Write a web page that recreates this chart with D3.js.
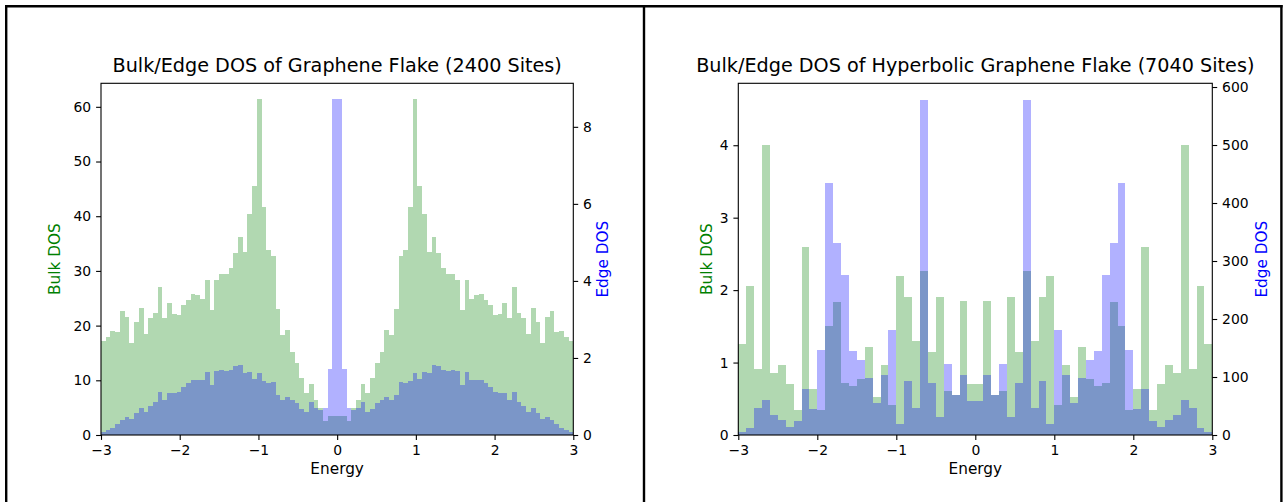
<!DOCTYPE html>
<html>
<head>
<meta charset="utf-8">
<script src="https://cdn.jsdelivr.net/npm/d3@7"></script>
<style>
    body { margin: 0; background: #fff; }
    svg text { font-family: "DejaVu Sans", sans-serif; }
</style>
</head>
<body>
<div id="chart"></div>
<script>
// histogram bins span this energy range, bins are equal width
var energyRange = [-3, 3];
var energyTicks = [-3, -2, -1, 0, 1, 2, 3];

// graphene flake, 100 bins
var flakeBulk = [
    17.1, 18.0, 19.0, 18.8, 22.6, 21.6, 16.8, 20.6, 23.3, 18.5,
    21.4, 22.3, 27.0, 21.3, 24.1, 22.1, 21.9, 23.8, 24.7, 25.8,
    25.6, 24.8, 28.4, 22.9, 28.4, 29.4, 29.5, 30.5, 33.3, 36.2,
    33.5, 40.4, 45.6, 61.4, 41.6, 33.8, 32.7, 23.0, 18.3, 19.2,
    15.2, 13.2, 10.5, 7.6, 9.3, 6.4, 5.0, 2.6, 3.5, 3.5,
    3.5, 3.5, 2.6, 5.0, 6.4, 9.3, 7.6, 10.5, 13.2, 15.2,
    19.2, 18.3, 23.0, 32.7, 33.8, 41.6, 61.4, 45.6, 40.4, 33.5,
    36.2, 33.3, 30.5, 29.5, 29.4, 28.4, 22.9, 28.4, 24.8, 25.6,
    25.8, 24.7, 23.8, 21.9, 22.1, 24.1, 21.3, 27.0, 22.3, 21.4,
    18.5, 23.3, 20.6, 16.8, 21.6, 22.6, 18.8, 19.0, 18.0, 17.1
];
var flakeEdge = [
    0.08, 0.13, 0.19, 0.28, 0.39, 0.46, 0.42, 0.56, 0.71, 0.61,
    0.75, 0.86, 1.12, 0.92, 1.10, 1.08, 1.11, 1.25, 1.34, 1.42,
    1.44, 1.42, 1.64, 1.30, 1.66, 1.70, 1.66, 1.69, 1.79, 1.82,
    1.62, 1.64, 1.46, 1.60, 1.40, 1.36, 1.37, 1.03, 0.90, 0.99,
    0.91, 0.82, 0.68, 0.61, 0.86, 0.71, 0.65, 0.71, 1.72, 8.72,
    8.72, 1.72, 0.71, 0.65, 0.71, 0.86, 0.61, 0.68, 0.82, 0.91,
    0.99, 0.90, 1.03, 1.37, 1.36, 1.40, 1.60, 1.46, 1.64, 1.62,
    1.82, 1.79, 1.69, 1.66, 1.70, 1.66, 1.30, 1.64, 1.42, 1.44,
    1.42, 1.34, 1.25, 1.11, 1.08, 1.10, 0.92, 1.12, 0.86, 0.75,
    0.61, 0.71, 0.56, 0.42, 0.46, 0.39, 0.28, 0.19, 0.13, 0.08
];
var flakeBulkTicks = [0, 10, 20, 30, 40, 50, 60];
var flakeEdgeTicks = [0, 2, 4, 6, 8];

// hyperbolic flake, 60 bins
var hypBulk = [
    1.26, 2.06, 0.91, 4.00, 0.85, 0.96, 0.70, 0.34, 2.60, 0.63,
    0.35, 1.50, 1.83, 0.72, 0.67, 0.77, 1.21, 0.52, 0.97, 0.42,
    2.20, 1.91, 1.30, 2.26, 1.14, 1.91, 0.61, 0.55, 1.85, 0.70,
    0.70, 1.85, 0.55, 0.61, 1.91, 1.14, 2.26, 1.30, 1.91, 2.20,
    0.42, 0.97, 0.52, 1.21, 0.77, 0.67, 0.72, 1.83, 1.50, 0.35,
    0.63, 2.60, 0.34, 0.70, 0.96, 0.85, 4.00, 0.91, 2.06, 1.26
];
var hypEdge = [
    5, 12.6, 45.8, 60.2, 34.4, 25.8, 14.3, 24.6, 78.5, 44.1,
    146, 435, 331, 276, 144, 129, 98.6, 55.6, 103, 180.5,
    18.3, 92.8, 45.8, 578, 88.8, 31.5, 123, 68.8, 103, 58.5,
    58.5, 103, 68.8, 123, 31.5, 88.8, 578, 45.8, 92.8, 18.3,
    180.5, 103, 55.6, 98.6, 129, 144, 276, 331, 435, 146,
    44.1, 78.5, 24.6, 14.3, 25.8, 34.4, 60.2, 45.8, 12.6, 5
];
var hypBulkTicks = [0, 1, 2, 3, 4];
var hypEdgeTicks = [0, 100, 200, 300, 400, 500, 600];

var svgWidth = 1285;
var svgHeight = 502;
var plotTop = 83.3;
var plotBottom = 435;
var tickFont = 13.9;
var labelFont = 15.3;
var titleFont = 19.2;

var svg = d3.select('#chart')
    .append('svg')
    .attr('width', svgWidth)
    .attr('height', svgHeight);

svg.append('rect')
    .attr('width', svgWidth)
    .attr('height', svgHeight)
    .attr('fill', '#fff');

// the black cell borders round the two figures
var borders = [
    [5, 6.2, 1282.6, 6.2],
    [6.2, 5, 6.2, svgHeight],
    [644, 5, 644, svgHeight],
    [1281.4, 5, 1281.4, svgHeight]
];
svg.selectAll('line.border')
    .data(borders)
    .enter()
    .append('line')
    .attr('class', 'border')
    .attr('x1', function(d) { return d[0]; })
    .attr('y1', function(d) { return d[1]; })
    .attr('x2', function(d) { return d[2]; })
    .attr('y2', function(d) { return d[3]; })
    .attr('stroke', '#000')
    .attr('stroke-width', 2.4);

function styleAxis(sel) {
    sel.select('.domain').remove();
    sel.selectAll('.tick line').attr('stroke', '#000').attr('stroke-width', 1.1);
    sel.selectAll('.tick text')
        .attr('fill', '#000')
        .attr('font-size', tickFont)
        .attr('font-family', '"DejaVu Sans", sans-serif');
}

function drawHist(g, data, x, y, color) {
    var binWidth = (energyRange[1] - energyRange[0]) / data.length;
    g.append('g')
        .attr('fill', color)
        .attr('opacity', 0.3)
        .selectAll('rect')
        .data(data)
        .enter()
        .append('rect')
        .attr('shape-rendering', 'crispEdges')
        .attr('x', function(d, i) { return x(energyRange[0] + i * binWidth); })
        .attr('width', function(d, i) {
            return x(energyRange[0] + (i + 1) * binWidth) - x(energyRange[0] + i * binWidth);
        })
        .attr('y', function(d) { return y(d); })
        .attr('height', function(d) { return y(0) - y(d); });
}

function drawPanel(p) {
    var g = svg.append('g');
    var fmt = d3.format('d');
    var x = d3.scaleLinear().domain(energyRange).range([p.left, p.right]);
    var yBulk = d3.scaleLinear().domain([0, p.bulkMax]).range([plotBottom, plotTop]);
    var yEdge = d3.scaleLinear().domain([0, p.edgeMax]).range([plotBottom, plotTop]);

    drawHist(g, p.bulk, x, yBulk, 'green');
    drawHist(g, p.edge, x, yEdge, 'blue');

    g.append('rect')
        .attr('x', p.left)
        .attr('y', plotTop)
        .attr('width', p.right - p.left)
        .attr('height', plotBottom - plotTop)
        .attr('fill', 'none')
        .attr('stroke', '#000')
        .attr('stroke-width', 1.1);

    g.append('g')
        .attr('transform', 'translate(0,' + plotBottom + ')')
        .call(d3.axisBottom(x).tickValues(energyTicks).tickFormat(fmt).tickSize(4.9).tickPadding(4.9))
        .call(styleAxis);
    g.append('g')
        .attr('transform', 'translate(' + p.left + ',0)')
        .call(d3.axisLeft(yBulk).tickValues(p.bulkTicks).tickFormat(fmt).tickSize(4.9).tickPadding(4.9))
        .call(styleAxis);
    g.append('g')
        .attr('transform', 'translate(' + p.right + ',0)')
        .call(d3.axisRight(yEdge).tickValues(p.edgeTicks).tickFormat(fmt).tickSize(4.9).tickPadding(4.9))
        .call(styleAxis);

    g.append('text')
        .attr('x', (p.left + p.right) / 2)
        .attr('y', 72)
        .attr('text-anchor', 'middle')
        .attr('font-size', titleFont)
        .attr('fill', '#000')
        .text(p.title);

    g.append('text')
        .attr('x', (p.left + p.right) / 2)
        .attr('y', 474)
        .attr('text-anchor', 'middle')
        .attr('font-size', labelFont)
        .attr('fill', '#000')
        .text('Energy');

    var midY = (plotTop + plotBottom) / 2;
    g.append('text')
        .attr('transform', 'translate(' + p.bulkLabelX + ',' + midY + ') rotate(-90)')
        .attr('text-anchor', 'middle')
        .attr('font-size', labelFont)
        .attr('fill', 'green')
        .text('Bulk DOS');
    g.append('text')
        .attr('transform', 'translate(' + p.edgeLabelX + ',' + midY + ') rotate(-90)')
        .attr('text-anchor', 'middle')
        .attr('font-size', labelFont)
        .attr('fill', 'blue')
        .text('Edge DOS');
}

drawPanel({
    title: 'Bulk/Edge DOS of Graphene Flake (2400 Sites)',
    left: 101, right: 573.3,
    bulk: flakeBulk, edge: flakeEdge,
    bulkMax: 64.3, edgeMax: 9.13,
    bulkTicks: flakeBulkTicks, edgeTicks: flakeEdgeTicks,
    bulkLabelX: 59.5, edgeLabelX: 607.5
});

drawPanel({
    title: 'Bulk/Edge DOS of Hyperbolic Graphene Flake (7040 Sites)',
    left: 738.3, right: 1212.3,
    bulk: hypBulk, edge: hypEdge,
    bulkMax: 4.855, edgeMax: 606.4,
    bulkTicks: hypBulkTicks, edgeTicks: hypEdgeTicks,
    bulkLabelX: 711.5, edgeLabelX: 1267
});
</script>
</body>
</html>
